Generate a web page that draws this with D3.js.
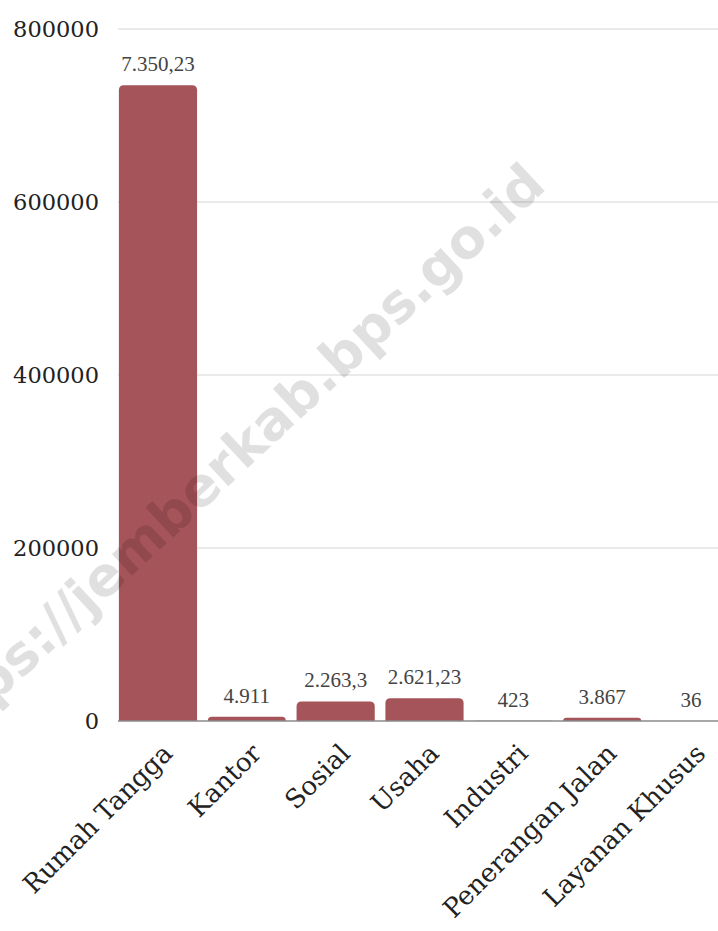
<!DOCTYPE html>
<html>
<head>
<meta charset="utf-8">
<script src="https://cdn.jsdelivr.net/npm/d3@7"></script>
<style>
  html, body { margin: 0; padding: 0; background: #fff; }
  svg { display: block; }
</style>
</head>
<body>
<svg id="chart" width="718" height="931"></svg>
<script>
const categories = ["Rumah Tangga", "Kantor", "Sosial", "Usaha", "Industri", "Penerangan Jalan", "Layanan Khusus"];
const values = [735023, 4911, 22633, 26212.3, 423, 3867, 36];
const valueLabels = ["7.350,23", "4.911", "2.263,3", "2.621,23", "423", "3.867", "36"];
const yTicks = [0, 200000, 400000, 600000, 800000];
const watermark = "https://jemberkab.bps.go.id";

(function () {
const svg = d3.select("#chart");
const pLeft = 118, pRight = 731, pTop = 29, pBottom = 721;

const x = d3.scaleBand().domain(categories).range([pLeft, pRight]).paddingInner(0.12).paddingOuter(0.01);
const y = d3.scaleLinear().domain([0, 800000]).range([pBottom, pTop]);

// gridlines
svg.append("g").selectAll("line").data(yTicks.filter(d => d > 0)).join("line")
  .attr("x1", pLeft).attr("x2", 718)
  .attr("y1", d => y(d)).attr("y2", d => y(d))
  .attr("stroke", "#d6d6d6").attr("stroke-width", 1.2);

// y tick labels
svg.append("g").selectAll("text").data(yTicks).join("text")
  .attr("x", 99).attr("y", d => y(d)).attr("dy", "0.35em")
  .attr("text-anchor", "end")
  .attr("font-family", "DejaVu Serif").attr("font-size", 22.5)
  .attr("fill", "#222")
  .text(d => d3.format("d")(d));

// bars with rounded top
const r = 5;
svg.append("g").selectAll("path").data(values).join("path")
  .attr("d", (d, i) => {
    const x0 = x(categories[i]), w = x.bandwidth();
    const y0 = y(d), y1 = y(0);
    const h = y1 - y0;
    const rr = Math.min(r, h, w / 2);
    return `M${x0},${y1}L${x0},${y0 + rr}Q${x0},${y0} ${x0 + rr},${y0}L${x0 + w - rr},${y0}Q${x0 + w},${y0} ${x0 + w},${y0 + rr}L${x0 + w},${y1}Z`;
  })
  .attr("fill", "#a55459");

// baseline
svg.append("line").attr("x1", pLeft).attr("x2", 718).attr("y1", y(0)).attr("y2", y(0))
  .attr("stroke", "#8a8a8a").attr("stroke-width", 1.3);

// value labels
svg.append("g").selectAll("text").data(values).join("text")
  .attr("x", (d, i) => x(categories[i]) + x.bandwidth() / 2)
  .attr("y", d => Math.min(y(d) - 14, 709))
  .attr("text-anchor", "middle")
  .attr("font-family", "Liberation Serif").attr("font-size", 21)
  .attr("fill", "#444")
  .text((d, i) => valueLabels[i]);

// x labels
svg.append("g").selectAll("text").data(categories).join("text")
  .attr("transform", d => `translate(${x(d) + x.bandwidth() / 2 + 16},${pBottom + 34}) rotate(-45)`)
  .attr("text-anchor", "end")
  .attr("font-family", "DejaVu Serif").attr("font-size", 26)
  .attr("fill", "#222")
  .text(d => d);

// watermark
svg.append("text")
  .attr("transform", "translate(548,188) rotate(-43)")
  .attr("text-anchor", "end")
  .attr("font-family", "DejaVu Sans").attr("font-weight", "bold").attr("font-size", 54)
  .attr("fill", "#000").attr("fill-opacity", 0.12)
  .text(watermark);
})();
</script>
</body>
</html>
